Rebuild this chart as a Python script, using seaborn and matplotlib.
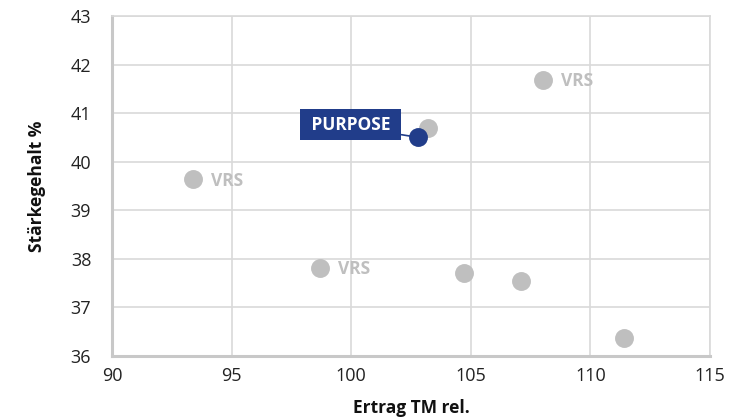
import matplotlib
matplotlib.use("Agg")
import matplotlib.pyplot as plt
import seaborn as sns
import pandas as pd

# Werte
ertrag_grau = [93.4, 103.2, 108.0, 98.7, 104.7, 107.1, 111.4]
staerke_grau = [39.64, 40.69, 41.69, 37.82, 37.71, 37.54, 36.37]
namen_grau = ['VRS', '', 'VRS', 'VRS', '', '', '']

ertrag_purpose = [102.8]
staerke_purpose = [40.5]
name_purpose = 'PURPOSE'

x_ticks = [90, 95, 100, 105, 110, 115]
y_ticks = [36, 37, 38, 39, 40, 41, 42, 43]

GRAU = '#bfbfbf'
BLAU = '#213d8a'

sns.set_style('white')
plt.rcParams['font.family'] = ['Open Sans', 'DejaVu Sans']

df_grau = pd.DataFrame({'x': ertrag_grau, 'y': staerke_grau, 'name': namen_grau})
df_purpose = pd.DataFrame({'x': ertrag_purpose, 'y': staerke_purpose})

fig = plt.figure(figsize=(7.29, 4.20), dpi=100)
ax = fig.add_axes([0.1536, 0.1524, 0.8204, 0.8096])

sns.scatterplot(data=df_grau, x='x', y='y', color=GRAU, s=185, linewidth=0, ax=ax, zorder=3)
sns.scatterplot(data=df_purpose, x='x', y='y', color=BLAU, s=185, linewidth=0, ax=ax, zorder=5)

for _, r in df_grau.iterrows():
    if r['name']:
        ax.annotate(r['name'], xy=(r['x'], r['y']), xytext=(13, -1), textcoords='offset points',
                    ha='left', va='center', color=GRAU, fontsize=12.5, fontweight='bold', zorder=4)

# blaues Etikett mit waagrechter Verbindungslinie zum Punkt
ax.annotate(' ' + name_purpose + ' ', xy=(ertrag_purpose[0], staerke_purpose[0]),
            xytext=(-48.5, 9.2), textcoords='offset points',
            ha='center', va='center', color='white', fontsize=12.5, fontweight='bold',
            bbox=dict(boxstyle='square,pad=0.38', fc=BLAU, ec='none'),
            arrowprops=dict(arrowstyle='-', color=BLAU, lw=1.2, relpos=(1, 0), shrinkA=0, shrinkB=0),
            zorder=4)

ax.set_xlim(90, 115)
ax.set_ylim(36, 43)
ax.set_xticks(x_ticks)
ax.set_yticks(y_ticks)
ax.grid(True, color='#d9d9d9', lw=1.2)
ax.set_axisbelow(True)
ax.tick_params(axis='both', length=0, labelsize=13, colors='#222222')
ax.tick_params(axis='y', pad=15)
ax.tick_params(axis='x', pad=8)

for s in ['top', 'right']:
    ax.spines[s].set_color('#d9d9d9')
    ax.spines[s].set_linewidth(1.2)
for s in ['left', 'bottom']:
    ax.spines[s].set_color('#c8c8c8')
    ax.spines[s].set_linewidth(2.2)

ax.set_xlabel('Ertrag TM rel.', fontsize=12.5, fontweight='bold', color='#111111', labelpad=10)
ax.set_ylabel('Stärkegehalt %', fontsize=12.5, fontweight='bold', color='#111111', labelpad=18)

fig.savefig('out.png', dpi=100)
